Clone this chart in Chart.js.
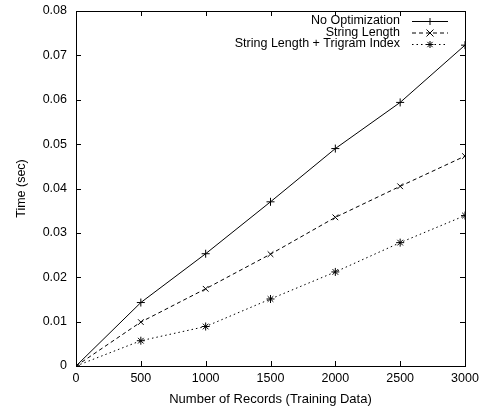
<!DOCTYPE html>
<html>
<head>
<meta charset="utf-8">
<script src="https://cdn.jsdelivr.net/npm/chart.js@4"></script>
<style>
  html, body { margin: 0; padding: 0; background: #fff; }
  #wrap { width: 484px; height: 411px; }
</style>
</head>
<body>
<div id="wrap"><canvas id="grafico" width="484" height="411"></canvas></div>
<script>
const registros = [0, 500, 1000, 1500, 2000, 2500, 3000];
const sinOptimizacion = [0, 0.0143, 0.0253, 0.0370, 0.0490, 0.0594, 0.0723];
const largoCadena = [0, 0.0099, 0.0174, 0.0252, 0.0335, 0.0405, 0.0473];
const largoTrigrama = [0, 0.0057, 0.0089, 0.0151, 0.0212, 0.0278, 0.0339];
const ticksX = [0, 500, 1000, 1500, 2000, 2500, 3000];
const ticksY = [0, 0.01, 0.02, 0.03, 0.04, 0.05, 0.06, 0.07, 0.08];

const fuente = "'Liberation Sans', Arial, sans-serif";

const series = [
  { label: "No Optimization", data: sinOptimizacion, estilo: "cross", guion: [] },
  { label: "String Length", data: largoCadena, estilo: "crossRot", guion: [4, 3] },
  { label: "String Length + Trigram Index", data: largoTrigrama, estilo: "star", guion: [1.5, 3] }
];

function dibujarMarca(ctx, tipo, x, y) {
  const r = 3.5;
  ctx.beginPath();
  if (tipo === "cross" || tipo === "star") {
    ctx.moveTo(x - r, y); ctx.lineTo(x + r, y);
    ctx.moveTo(x, y - r); ctx.lineTo(x, y + r);
  }
  if (tipo === "crossRot" || tipo === "star") {
    const d = tipo === "star" ? r * 0.75 : r;
    ctx.moveTo(x - d, y - d); ctx.lineTo(x + d, y + d);
    ctx.moveTo(x - d, y + d); ctx.lineTo(x + d, y - d);
  }
  ctx.stroke();
}

const marcoGnuplot = {
  id: "marcoGnuplot",
  afterDraw(chart) {
    const { ctx, chartArea: a, scales } = chart;
    ctx.save();
    ctx.strokeStyle = "#000";
    ctx.lineWidth = 1;
    ctx.setLineDash([]);
    ctx.strokeRect(a.left + 0.5, a.top + 0.5, a.right - a.left, a.bottom - a.top);
    const largo = 5;
    ctx.beginPath();
    ticksX.forEach((v) => {
      const x = Math.round(scales.x.getPixelForValue(v)) + 0.5;
      ctx.moveTo(x, a.bottom); ctx.lineTo(x, a.bottom - largo);
      ctx.moveTo(x, a.top); ctx.lineTo(x, a.top + largo);
    });
    ticksY.forEach((v) => {
      const y = Math.round(scales.y.getPixelForValue(v)) + 0.5;
      ctx.moveTo(a.left, y); ctx.lineTo(a.left + largo, y);
      ctx.moveTo(a.right, y); ctx.lineTo(a.right - largo, y);
    });
    ctx.stroke();

    // leyenda estilo gnuplot
    ctx.font = "12.5px " + fuente;
    ctx.fillStyle = "#000";
    ctx.textAlign = "right";
    ctx.textBaseline = "middle";
    series.forEach((s, i) => {
      const y = 21 + i * 11.5;
      ctx.fillText(s.label, 400, y);
      ctx.setLineDash(s.guion);
      ctx.beginPath();
      ctx.moveTo(412, y + 0.5); ctx.lineTo(448, y + 0.5);
      ctx.stroke();
      ctx.setLineDash([]);
      dibujarMarca(ctx, s.estilo, 430, y + 0.5);
    });
    ctx.restore();
  }
};

function init() {
  const canvas = document.getElementById("grafico");
  new Chart(canvas, {
    type: "line",
    data: {
      datasets: series.map((s) => ({
        label: s.label,
        data: registros.map((r, i) => ({ x: r, y: s.data[i] })),
        borderColor: "#000",
        borderWidth: 1,
        borderDash: s.guion,
        pointStyle: s.estilo,
        pointRadius: 4,
        pointBorderColor: "#000",
        pointBorderWidth: 1,
        pointBackgroundColor: "#000",
        tension: 0,
        fill: false
      }))
    },
    options: {
      responsive: false,
      animation: false,
      layout: { padding: { top: 11, right: 19, left: 0, bottom: 0 } },
      plugins: { legend: { display: false }, tooltip: { enabled: false } },
      scales: {
        x: {
          type: "linear",
          min: 0, max: 3000,
          afterBuildTicks: (scale) => { scale.ticks = ticksX.map((v) => ({ value: v })); },
          afterFit: (scale) => { scale.height = 45; scale.paddingLeft = 0; scale.paddingRight = 0; },
          grid: { display: false, drawTicks: false },
          border: { display: false },
          ticks: { color: "#000", font: { family: fuente, size: 12.5 }, padding: 5, maxRotation: 0, callback: (v) => String(v) },
          title: { display: true, text: "Number of Records (Training Data)", color: "#000", font: { family: fuente, size: 13 }, padding: { top: 0, bottom: 4 } }
        },
        y: {
          min: 0, max: 0.08,
          afterBuildTicks: (scale) => { scale.ticks = ticksY.map((v) => ({ value: v })); },
          afterFit: (scale) => { scale.width = 76; scale.paddingTop = 0; scale.paddingBottom = 0; },
          grid: { display: false, drawTicks: false },
          border: { display: false },
          ticks: { color: "#000", font: { family: fuente, size: 12.5 }, padding: 9, callback: (v) => String(Math.round(v * 100) / 100) },
          title: { display: true, text: "Time (sec)", color: "#000", font: { family: fuente, size: 12.5 }, padding: { top: 14, bottom: 0 } }
        }
      }
    },
    plugins: [marcoGnuplot]
  });
}

if (document.readyState === "loading") {
  document.addEventListener("DOMContentLoaded", init);
} else {
  init();
}
</script>
</body>
</html>
